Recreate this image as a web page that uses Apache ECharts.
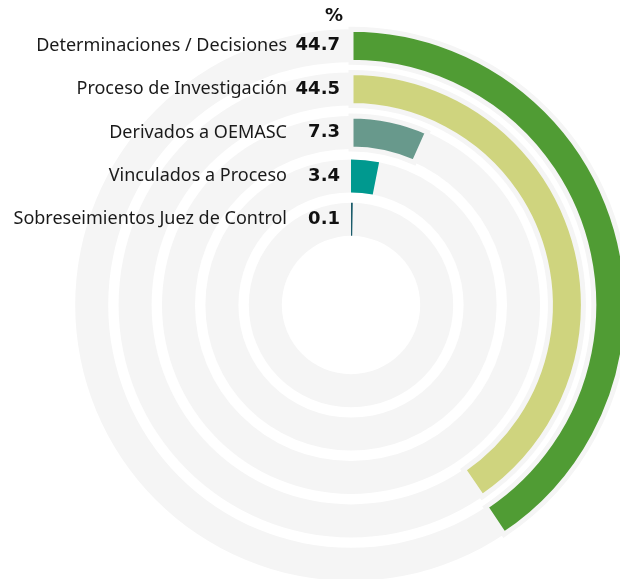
<!DOCTYPE html>
<html>
<head>
<meta charset="utf-8">
<script src="https://cdn.jsdelivr.net/npm/echarts@6/dist/echarts.min.js"></script>
<style>
  html, body { margin: 0; padding: 0; background: #fff; }
  #chart { width: 620px; height: 579px; }
</style>
</head>
<body>
<div id="chart"></div>
<script>
// categories, top (outer ring) to bottom (inner ring)
var categories = [
  'Determinaciones / Decisiones',
  'Proceso de Investigación',
  'Derivados a OEMASC',
  'Vinculados a Proceso',
  'Sobreseimientos Juez de Control'
];
var percentValues = [44.7, 44.5, 7.3, 3.4, 0.1];
var percentLabels = ['44.7', '44.5', '7.3', '3.4', '0.1'];
var barColors = ['#509c34', '#cfd47e', '#68998c', '#00998f', '#1b5c6b'];

var ringColor = '#f5f5f5';

var seriesData = percentValues.map(function (v, i) {
  // outer three bars sit slightly inset inside their ring
  var inset = i < 3;
  return {
    value: v,
    itemStyle: {
      color: barColors[i],
      borderColor: ringColor,
      borderWidth: inset ? 5 : 0
    }
  };
});

var myChart = echarts.init(document.getElementById('chart'));

var option = {
  backgroundColor: '#fff',
  animation: false,
  title: {
    text: '%',
    left: 320,
    top: 2,
    textStyle: {
      fontFamily: 'DejaVu Sans',
      fontWeight: 'bold',
      fontSize: 18,
      color: '#111'
    }
  },
  polar: {
    center: [351, 305],
    radius: [64, 281]
  },
  angleAxis: {
    min: 0,
    max: 110,
    startAngle: 90,
    clockwise: true,
    show: false
  },
  radiusAxis: {
    type: 'category',
    data: categories,
    inverse: true,
    z: 10,
    axisLine: { show: false },
    axisTick: { show: false },
    splitLine: { show: false },
    axisLabel: {
      margin: 11,
      interval: 0,
      formatter: function (value, index) {
        return '{n|' + value + '}{v|' + percentLabels[index] + '}';
      },
      rich: {
        n: {
          fontFamily: 'Noto Sans',
          fontSize: 18,
          color: '#1a1a1a'
        },
        v: {
          fontFamily: 'DejaVu Sans',
          fontWeight: 'bold',
          fontSize: 18,
          color: '#111',
          width: 53,
          align: 'right'
        }
      }
    }
  },
  series: [{
    type: 'bar',
    coordinateSystem: 'polar',
    barWidth: 33,
    barMinAngle: 1,
    showBackground: true,
    backgroundStyle: { color: ringColor },
    data: seriesData
  }]
};

myChart.setOption(option);
</script>
</body>
</html>
